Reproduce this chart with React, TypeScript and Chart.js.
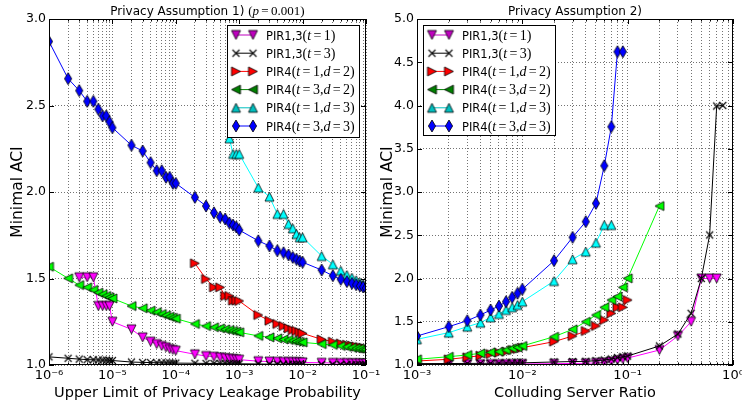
import React, { useEffect, useRef } from 'react';
import { Chart, registerables } from 'chart.js';

Chart.register(...registerables);

if (typeof document !== 'undefined') {
  document.body.style.margin = '0';
}

// ---------- x positions ----------
const LEFT_X = [
  1e-6, 2e-6, 3e-6, 4e-6, 5e-6, 6e-6, 7e-6, 8e-6, 9e-6,
  1e-5, 2e-5, 3e-5, 4e-5, 5e-5, 6e-5, 7e-5, 8e-5, 9e-5,
  1e-4, 2e-4, 3e-4, 4e-4, 5e-4, 6e-4, 7e-4, 8e-4, 9e-4,
  1e-3, 2e-3, 3e-3, 4e-3, 5e-3, 6e-3, 7e-3, 8e-3, 9e-3,
  1e-2, 2e-2, 3e-2, 4e-2, 5e-2, 6e-2, 7e-2, 8e-2, 9e-2,
  1e-1,
];
const RIGHT_X = [
  1e-3, 2e-3, 3e-3, 4e-3, 5e-3, 6e-3, 7e-3, 8e-3, 9e-3,
  1e-2, 2e-2, 3e-2, 4e-2, 5e-2, 6e-2, 7e-2, 8e-2, 9e-2,
  1e-1, 2e-1, 3e-1, 4e-1, 5e-1, 6e-1, 7e-1, 8e-1,
];
const LEFT_TICK_VALUES = LEFT_X;
const RIGHT_TICK_VALUES = [...RIGHT_X, 9e-1, 1];
const LEFT_Y_RANGE = [1, 3];
const RIGHT_Y_RANGE = [1, 5];

// ---------- left panel values ----------
const LEFT_PIR13_T1 = [ // from 3e-6
  1.507, 1.507, 1.507, 1.341, 1.341, 1.341, 1.341,
  1.25, 1.206, 1.16, 1.135, 1.121, 1.11, 1.102, 1.092, 1.087,
  1.083, 1.062, 1.052, 1.048, 1.044, 1.04, 1.037, 1.035, 1.033,
  1.031, 1.022, 1.02, 1.019, 1.018, 1.017, 1.017, 1.016, 1.016,
  1.015, 1.013, 1.012, 1.011, 1.011, 1.01, 1.01, 1.01, 1.009,
  1.009,
];
const LEFT_PIR13_T3 = [
  1.047, 1.039, 1.034, 1.031, 1.03, 1.029, 1.028, 1.028, 1.027,
  1.026, 1.017, 1.015, 1.014, 1.013, 1.013, 1.012, 1.012, 1.012,
  1.011, 1.01, 1.009, 1.009, 1.008, 1.008, 1.008, 1.007, 1.007,
  1.007, 1.006, 1.005, 1.005, 1.005, 1.004, 1.004, 1.004, 1.004,
  1.004, 1.003, 1.003, 1.003, 1.003, 1.002, 1.002, 1.002, 1.002,
  1.002,
];
const LEFT_PIR4_T1D2 = [ // from 2e-4
  1.588, 1.497, 1.449, 1.449, 1.399, 1.399, 1.372, 1.372,
  1.37, 1.289, 1.256, 1.237, 1.225, 1.212, 1.202, 1.197, 1.189,
  1.183, 1.148, 1.135, 1.125, 1.118, 1.113, 1.108, 1.104, 1.1,
  1.096,
];
const LEFT_PIR4_T3D2 = [
  1.568, 1.501, 1.462, 1.449, 1.434, 1.418, 1.409, 1.399, 1.391,
  1.385, 1.341, 1.328, 1.314, 1.305, 1.295, 1.287, 1.279, 1.273,
  1.268, 1.237, 1.225, 1.218, 1.212, 1.206, 1.202, 1.197, 1.193,
  1.189, 1.168, 1.16, 1.154, 1.148, 1.145, 1.14, 1.136, 1.133,
  1.131, 1.121, 1.116, 1.11, 1.105, 1.1, 1.097, 1.094, 1.091,
  1.089,
];
const LEFT_PIR4_T1D3 = [ // from 7e-4
  2.31, 2.22, 2.22,
  2.22, 2.025, 1.973, 1.873, 1.873, 1.815, 1.79, 1.757, 1.738,
  1.738, 1.63, 1.582, 1.545, 1.52, 1.505, 1.49, 1.478, 1.467,
  1.457,
];
const LEFT_PIR4_T3D3 = [
  2.87, 2.655, 2.586, 2.524, 2.524, 2.478, 2.44, 2.44, 2.405,
  2.372, 2.27, 2.237, 2.17, 2.123, 2.123, 2.085, 2.085, 2.05,
  2.05, 1.969, 1.919, 1.88, 1.855, 1.844, 1.821, 1.809, 1.798,
  1.78, 1.718, 1.688, 1.661, 1.649, 1.636, 1.622, 1.611, 1.601,
  1.594, 1.549, 1.516, 1.495, 1.482, 1.472, 1.464, 1.457, 1.451,
  1.445,
];

// ---------- right panel values ----------
const RIGHT_PIR13_T1 = [
  1.008, 1.008, 1.009, 1.009, 1.01, 1.01, 1.01, 1.011, 1.011,
  1.012, 1.015, 1.018, 1.02, 1.025, 1.03, 1.04, 1.055, 1.068,
  1.08, 1.173, 1.335, 1.5, 2.0, 2.0, 2.0,
];
const RIGHT_PIR13_T3 = [
  1.016, 1.017, 1.018, 1.019, 1.02, 1.021, 1.022, 1.023, 1.024,
  1.025, 1.035, 1.04, 1.042, 1.05, 1.058, 1.07, 1.085, 1.095,
  1.104, 1.22, 1.358, 1.597, 2.0, 2.503, 3.994, 4.0,
];
const RIGHT_PIR4_T1D2 = [
  1.046, 1.066, 1.089, 1.108, 1.127, 1.142, 1.154, 1.173, 1.185,
  1.2, 1.27, 1.335, 1.393, 1.451, 1.52, 1.597, 1.667, 1.667,
  1.751,
];
const RIGHT_PIR4_T3D2 = [
  1.066, 1.096, 1.116, 1.135, 1.147, 1.154, 1.173, 1.193, 1.204,
  1.22, 1.327, 1.412, 1.5, 1.578, 1.667, 1.751, 1.79, 1.898,
  2.002, 2.838,
];
const RIGHT_PIR4_T1D3 = [
  1.297, 1.374, 1.443, 1.489, 1.551, 1.59, 1.636, 1.667, 1.694,
  1.732, 1.971, 2.222, 2.31, 2.414, 2.618, 2.618,
];
const RIGHT_PIR4_T3D3 = [
  1.335, 1.443, 1.512, 1.578, 1.636, 1.682, 1.732, 1.782, 1.829,
  1.875, 2.206, 2.476, 2.657, 2.869, 3.304, 3.755, 4.622, 4.622,
];

// ---------- labels ----------
const SERIES_NAMES = ['PIR1,3', 'PIR1,3', 'PIR4', 'PIR4', 'PIR4', 'PIR4'];
const SERIES_PARAMS = ['(t=1)', '(t=3)', '(t=1,d=2)', '(t=3,d=2)', '(t=1,d=3)', '(t=3,d=3)'];
const LEFT_TITLE = ['Privacy Assumption 1) ', '(p=0.001)'];
const RIGHT_TITLE = ['Privacy Assumption 2)', ''];
const LEFT_XLABEL = 'Upper Limit of Privacy Leakage Probability';
const RIGHT_XLABEL = 'Colluding Server Ratio';
const YLABEL = 'Minimal ACI';

// ---------- styles ----------
const SANS = '"DejaVu Sans", sans-serif';
const SERIF = '"Liberation Serif", "DejaVu Serif", serif';
const LINE_COLORS = ['#ff00ff', '#000000', '#ff0000', '#00ff00', '#00ffff', '#0000ff'];
const LEGEND_COLORS = ['#bf00bf', '#000000', '#ff0000', '#008000', '#00bfbf', '#0000ff'];
const MARKERS = ['v', 'x', '>', '<', '^', 'd'];

function markerCanvas(kind: string, fill: string): HTMLCanvasElement {
  const size = kind === 'd' ? 12 : kind === 'x' ? 7 : 9;
  const w = Math.ceil(size + 4);
  const c = document.createElement('canvas');
  c.width = w;
  c.height = w;
  const g = c.getContext('2d') as CanvasRenderingContext2D;
  const h = size / 2;
  const cx = w / 2;
  const cy = w / 2;
  g.lineJoin = 'miter';
  if (kind === 'x') {
    g.strokeStyle = '#000';
    g.lineWidth = 1.1;
    g.beginPath();
    g.moveTo(cx - h, cy - h); g.lineTo(cx + h, cy + h);
    g.moveTo(cx + h, cy - h); g.lineTo(cx - h, cy + h);
    g.stroke();
    return c;
  }
  g.beginPath();
  if (kind === 'v') { g.moveTo(cx - h, cy - h); g.lineTo(cx + h, cy - h); g.lineTo(cx, cy + h); }
  else if (kind === '^') { g.moveTo(cx - h, cy + h); g.lineTo(cx + h, cy + h); g.lineTo(cx, cy - h); }
  else if (kind === '>') { g.moveTo(cx - h, cy - h); g.lineTo(cx + h, cy); g.lineTo(cx - h, cy + h); }
  else if (kind === '<') { g.moveTo(cx + h, cy - h); g.lineTo(cx - h, cy); g.lineTo(cx + h, cy + h); }
  else if (kind === 'd') { g.moveTo(cx, cy - h); g.lineTo(cx + h * 0.6, cy); g.lineTo(cx, cy + h); g.lineTo(cx - h * 0.6, cy); }
  g.closePath();
  g.fillStyle = fill;
  g.fill();
  g.strokeStyle = '#000';
  g.lineWidth = 0.8;
  g.stroke();
  return c;
}

type Seg = { t?: string; f?: string; gap?: number };

function mathSegs(str: string, size: number): Seg[] {
  const out: Seg[] = [];
  for (const ch of str) {
    if (/[a-z]/i.test(ch)) out.push({ t: ch, f: `italic ${size}px ${SERIF}` });
    else if (ch === '=') {
      out.push({ gap: 2.4 });
      out.push({ t: '=', f: `${size}px ${SERIF}` });
      out.push({ gap: 2.4 });
    } else out.push({ t: ch, f: `${size}px ${SERIF}` });
  }
  return out;
}

function measureRich(ctx: CanvasRenderingContext2D, segs: Seg[]): number {
  let w = 0;
  for (const s of segs) {
    if (s.gap) { w += s.gap; continue; }
    ctx.font = s.f as string;
    w += ctx.measureText(s.t as string).width;
  }
  return w;
}

function drawRich(ctx: CanvasRenderingContext2D, x: number, y: number, segs: Seg[]) {
  let cx = x;
  ctx.textBaseline = 'alphabetic';
  ctx.textAlign = 'left';
  ctx.fillStyle = '#000';
  for (const s of segs) {
    if (s.gap) { cx += s.gap; continue; }
    ctx.font = s.f as string;
    ctx.fillText(s.t as string, cx, y);
    cx += ctx.measureText(s.t as string).width;
  }
}

const SUP: Record<string, string> = {
  '-': '\u207B', '0': '\u2070', '1': '\u00B9', '2': '\u00B2', '3': '\u00B3',
  '4': '\u2074', '5': '\u2075', '6': '\u2076', '7': '\u2077', '8': '\u2078', '9': '\u2079',
};
function logLabel(v: number): string {
  const l = Math.log10(v);
  const e = Math.round(l);
  if (Math.abs(l - e) > 1e-6) return '';
  return '10' + String(e).split('').map((c) => SUP[c]).join('');
}
function isDecade(v: number): boolean {
  const l = Math.log10(v);
  return Math.abs(l - Math.round(l)) < 1e-6;
}

interface PanelSpec {
  xs: number[][];
  ys: number[][];
  xMin: number;
  xMax: number;
  yRange: number[];
  ticks: number[];
  title: string[];
  xLabel: string;
  yWidth: number;
  padRight: number;
  yTitlePad: number;
  legendLeft: boolean;
  legendH: number;
}

const LEFT_SPEC: PanelSpec = {
  xs: [LEFT_X.slice(2), LEFT_X, LEFT_X.slice(19), LEFT_X, LEFT_X.slice(24), LEFT_X],
  ys: [LEFT_PIR13_T1, LEFT_PIR13_T3, LEFT_PIR4_T1D2, LEFT_PIR4_T3D2, LEFT_PIR4_T1D3, LEFT_PIR4_T3D3],
  xMin: 1e-6, xMax: 1e-1, yRange: LEFT_Y_RANGE, ticks: LEFT_TICK_VALUES,
  title: LEFT_TITLE, xLabel: LEFT_XLABEL,
  yWidth: 49, padRight: 24, yTitlePad: 9, legendLeft: false, legendH: 112,
};
const RIGHT_SPEC: PanelSpec = {
  xs: [RIGHT_X.slice(0, 25), RIGHT_X, RIGHT_X.slice(0, 19), RIGHT_X.slice(0, 20), RIGHT_X.slice(0, 16), RIGHT_X.slice(0, 18)],
  ys: [RIGHT_PIR13_T1, RIGHT_PIR13_T3, RIGHT_PIR4_T1D2, RIGHT_PIR4_T3D2, RIGHT_PIR4_T1D3, RIGHT_PIR4_T3D3],
  xMin: 1e-3, xMax: 1, yRange: RIGHT_Y_RANGE, ticks: RIGHT_TICK_VALUES,
  title: RIGHT_TITLE, xLabel: RIGHT_XLABEL,
  yWidth: 46, padRight: 9, yTitlePad: 7.5, legendLeft: true, legendH: 110,
};

function buildConfig(spec: PanelSpec): any {
  const plotImgs = MARKERS.map((m, i) => markerCanvas(m, LINE_COLORS[i]));
  const legendImgs = MARKERS.map((m, i) => markerCanvas(m, LEGEND_COLORS[i]));

  const datasets = spec.ys.map((ys, i) => ({
    label: SERIES_NAMES[i] + SERIES_PARAMS[i],
    data: ys.map((y, j) => ({ x: spec.xs[i][j], y })),
    borderColor: LINE_COLORS[i],
    backgroundColor: LINE_COLORS[i],
    borderWidth: 1,
    pointStyle: plotImgs[i],
    pointRadius: 5,
    tension: 0,
    clip: 0,
    order: 5 - i,
  }));

  const gridStyle = { color: 'rgba(0,0,0,0.55)', lineWidth: 1, drawTicks: false, borderDash: [1, 2] };
  const borderStyle = { display: false, dash: [1, 2] };

  const decor = {
    id: 'decor',
    afterDraw(chart: any) {
      const ctx: CanvasRenderingContext2D = chart.ctx;
      const a = chart.chartArea;
      const xs = chart.scales.x;
      const ysc = chart.scales.y;
      ctx.save();
      // frame
      ctx.strokeStyle = '#000';
      ctx.lineWidth = 1;
      ctx.setLineDash([]);
      ctx.strokeRect(Math.round(a.left) + 0.5, Math.round(a.top) + 0.5, Math.round(a.right - a.left) - 1, Math.round(a.bottom - a.top) - 1);
      // inward ticks
      ctx.beginPath();
      for (const t of xs.ticks) {
        const px = Math.round(xs.getPixelForValue(t.value)) + 0.5;
        const len = isDecade(t.value) ? 5 : 2.5;
        ctx.moveTo(px, a.bottom); ctx.lineTo(px, a.bottom - len);
        ctx.moveTo(px, a.top); ctx.lineTo(px, a.top + len);
      }
      for (const t of ysc.ticks) {
        const py = Math.round(ysc.getPixelForValue(t.value)) + 0.5;
        ctx.moveTo(a.left, py); ctx.lineTo(a.left + 5, py);
        ctx.moveTo(a.right, py); ctx.lineTo(a.right - 5, py);
      }
      ctx.stroke();
      // title
      const tSegs: Seg[] = [{ t: spec.title[0], f: `12px ${SANS}` }, ...mathSegs(spec.title[1], 13)];
      const tw = measureRich(ctx, tSegs);
      drawRich(ctx, (a.left + a.right) / 2 - tw / 2, 15, tSegs);
      // legend
      const w = 132;
      const h = spec.legendH;
      const x0 = spec.legendLeft ? Math.round(a.left) + 6 : Math.round(a.right) - 7 - w;
      const y0 = Math.round(a.top) + 6;
      ctx.fillStyle = '#fff';
      ctx.fillRect(x0, y0, w, h);
      ctx.strokeStyle = '#000';
      ctx.strokeRect(x0 + 0.5, y0 + 0.5, w, h);
      for (let i = 0; i < SERIES_NAMES.length; i++) {
        const cy = y0 + 10 + i * 18.2;
        ctx.strokeStyle = LEGEND_COLORS[i];
        ctx.lineWidth = 1;
        ctx.beginPath();
        ctx.moveTo(x0 + 9, cy);
        ctx.lineTo(x0 + 26, cy);
        ctx.stroke();
        const img = legendImgs[i];
        ctx.drawImage(img, x0 + 9 - img.width / 2, cy - img.height / 2);
        ctx.drawImage(img, x0 + 26 - img.width / 2, cy - img.height / 2);
        const segs: Seg[] = [{ t: SERIES_NAMES[i], f: `11.5px ${SANS}` }, ...mathSegs(SERIES_PARAMS[i], 14)];
        drawRich(ctx, x0 + 39, cy + 4.5, segs);
      }
      ctx.restore();
    },
  };

  return {
    type: 'line',
    data: { datasets },
    options: {
      animation: false,
      responsive: false,
      devicePixelRatio: 1,
      events: [],
      layout: { padding: { top: 19, right: spec.padRight, left: 0, bottom: 0 } },
      plugins: { legend: { display: false }, tooltip: { enabled: false }, title: { display: false } },
      scales: {
        x: {
          type: 'logarithmic',
          min: spec.xMin,
          max: spec.xMax,
          afterBuildTicks: (s: any) => { s.ticks = spec.ticks.map((v) => ({ value: v })); },
          afterFit: (s: any) => { s.height = 41; s.paddingLeft = 0; s.paddingRight = 0; },
          ticks: {
            autoSkip: false, maxRotation: 0, minRotation: 0, padding: 3, color: '#000',
            font: { family: SANS, size: 13 },
            callback: (v: any) => logLabel(Number(v)),
          },
          grid: gridStyle,
          border: borderStyle,
          title: {
            display: true, text: spec.xLabel, color: '#000',
            font: { family: SANS, size: 14.5 }, padding: { top: 0, bottom: 3.8 },
          },
        },
        y: {
          type: 'linear',
          min: spec.yRange[0],
          max: spec.yRange[1],
          afterFit: (s: any) => { s.width = spec.yWidth; s.paddingTop = 0; s.paddingBottom = 0; },
          ticks: {
            stepSize: 0.5, padding: 3, color: '#000',
            font: { family: SANS, size: 12.5 },
            callback: (v: any) => Number(v).toFixed(1),
          },
          grid: gridStyle,
          border: borderStyle,
          title: {
            display: true, text: YLABEL, color: '#000',
            font: { family: SANS, size: 15.5 }, padding: { top: spec.yTitlePad, bottom: 0 },
          },
        },
      },
    },
    plugins: [decor],
  };
}

function Panel({ spec, left, width }: { spec: PanelSpec; left: number; width: number }) {
  const ref = useRef<HTMLCanvasElement>(null);
  useEffect(() => {
    const chart = new Chart(ref.current as HTMLCanvasElement, buildConfig(spec));
    return () => chart.destroy();
  }, [spec]);
  return (
    <canvas
      ref={ref}
      width={width}
      height={406}
      style={{ position: 'absolute', left, top: 0, width, height: 406 }}
    />
  );
}

export default function App() {
  return (
    <div style={{ position: 'relative', width: 742, height: 406, background: '#fff', overflow: 'hidden' }}>
      <Panel spec={LEFT_SPEC} left={0} width={390} />
      <Panel spec={RIGHT_SPEC} left={371} width={371} />
    </div>
  );
}
